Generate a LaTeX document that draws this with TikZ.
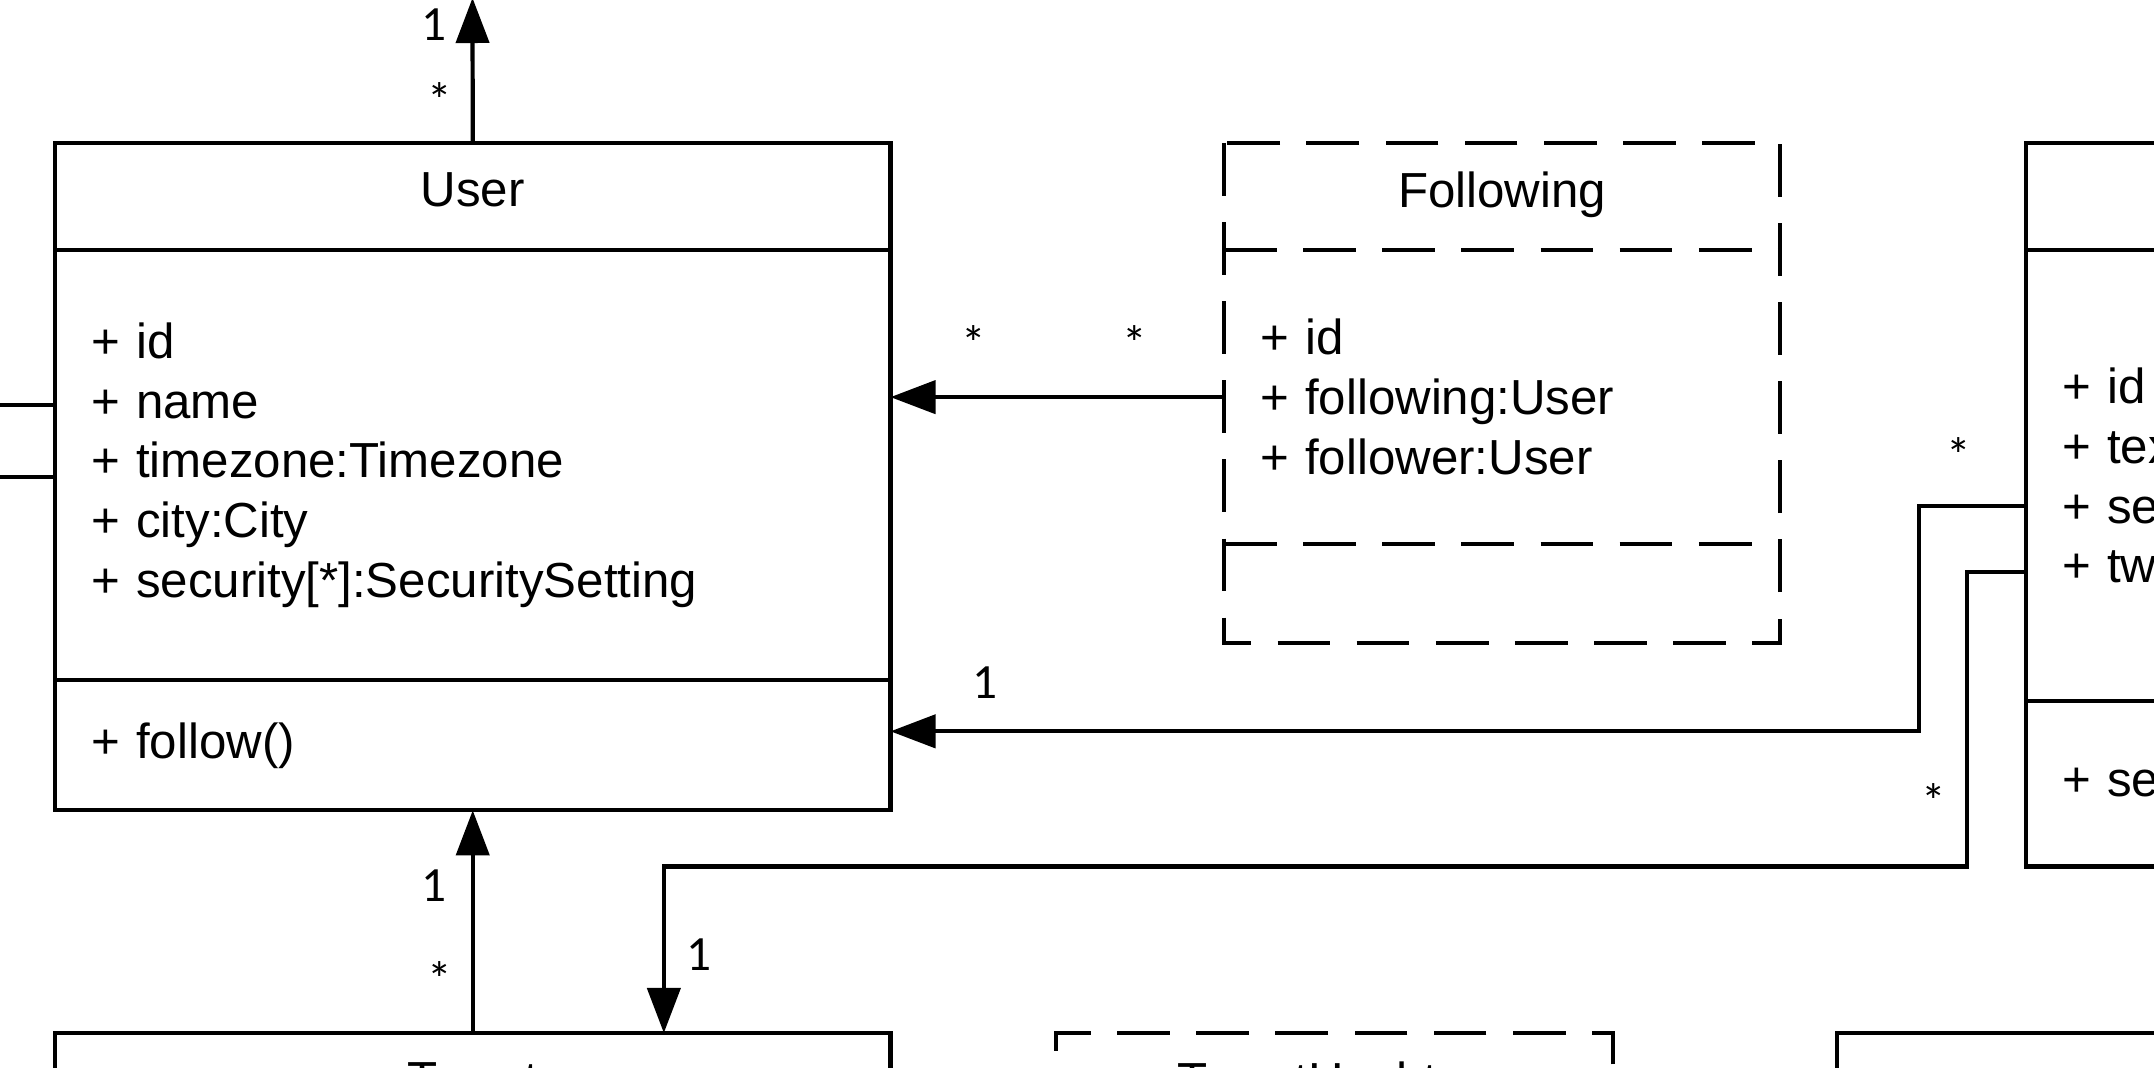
\documentclass[tikz,border=0pt]{standalone}
\usepackage{fontspec}
\setmainfont{Liberation Sans}
\newfontfamily\multfont{Carlito}
\usetikzlibrary{arrows.meta,positioning}
\newcommand{\umlfont}{\fontsize{14pt}{17pt}\selectfont}

\begin{document}
\begin{tikzpicture}[x=0.01cm, y=-0.01cm,
  part/.style={draw, line width=1.2pt, outer sep=0pt, inner xsep=3.6mm, inner ysep=0pt, text width=#1, align=left, font=\umlfont},
  part/.default=7.63cm,
  head/.style={part=#1, align=center, text depth=4pt}, head/.default=7.63cm,
  dsh/.style={dash pattern=on 15pt off 7.5pt},
  ar/.style={-{Triangle[length=4.5mm, width=3.3mm]}, line width=1.2pt},
  mult/.style={font=\multfont\umlfont, inner sep=0pt}]
\clip (0,0) rectangle (2154,1068);
% User
\node[head, minimum height=1.07cm, anchor=north west] (user) at (55,143) {User};
\node[part, minimum height=4.3cm, below=0pt of user] (user-a) {+ id\\+ name\\+ timezone:Timezone\\+ city:City\\+ security[*]:SecuritySetting};
\node[part, minimum height=1.3cm, below=0pt of user-a] (user-m) {+ follow()};
% Following (dashed)
\node[head=4.84cm, draw=none, minimum height=1.07cm, anchor=north west] (fol) at (1224,143) {Following};
\node[part=4.84cm, draw=none, minimum height=2.94cm, below=0pt of fol] (fol-a) {+ id\\+ following:User\\+ follower:User};
\node[part=4.84cm, draw=none, minimum height=0.99cm, below=0pt of fol-a] (fol-m) {};
\draw[dsh, line width=1.2pt] (fol.north west) rectangle (fol-m.south east);
\draw[dsh, line width=1.2pt] (fol.south west) -- (fol.south east);
\draw[dsh, line width=1.2pt] (fol-m.north west) -- (fol-m.north east);
% right class
\node[head, minimum height=1.07cm, anchor=north west] (rt) at (2026,143) {};
\node[part, minimum height=4.51cm, below=0pt of rt] (rt-a) {+ id\\+ text\\+ sender:User\\+ tweet:Tweet};
\node[part, minimum height=1.65cm, below=0pt of rt-a] (rt-m) {+ send()};
% bottom row
\node[head, minimum height=1.07cm, anchor=north west] (tweet) at (55,1033) {Tweet};
\node[head=4.85cm, dsh, minimum height=1.07cm, anchor=north west] (tag) at (1056,1033) {TweetHashtag};
\node[head, minimum height=1.07cm, anchor=north west] (btm) at (1837,1033) {};

% connectors
\coordinate (up) at (472.5,-2);
\coordinate (tw-in) at ([xshift=1.91cm]tweet.north);
\coordinate (l1) at (-10,405);
\coordinate (l2) at (-10,477);
\draw[ar] (user.north) -- (up);
\draw[ar] (fol-a.west) -- (user-a.east |- fol-a.west);
\draw[ar] ([yshift=-3mm]rt-a.west) -- ++(-107,0) |- ([yshift=1.4mm]user-m.east);
\draw[ar] ([yshift=-9.6mm]rt-a.west) -- ++(-59,0) |- (tw-in |- rt-m.south) -- (tw-in);
\draw[ar] (tweet.north) -- (user-m.south);
\draw[line width=1.2pt] (l1) -- (l1 -| user-a.west);
\draw[line width=1.2pt] (l2) -- (l2 -| user-a.west);

% multiplicities
\node[mult] (m1) at (434,25) {1};
\node[mult] (m2) at (440,100) {*};
\node[mult] (m3) at (974,343) {*};
\node[mult] (m4) at (1135,343) {*};
\node[mult] (m5) at (985,683) {1};
\node[mult] (m6) at (1959,455) {*};
\node[mult] (m7) at (1934,801) {*};
\node[mult] (m8) at (699,955) {1};
\node[mult] (m9) at (434,886) {1};
\node[mult] (m10) at (440,979) {*};
\end{tikzpicture}
\end{document}
